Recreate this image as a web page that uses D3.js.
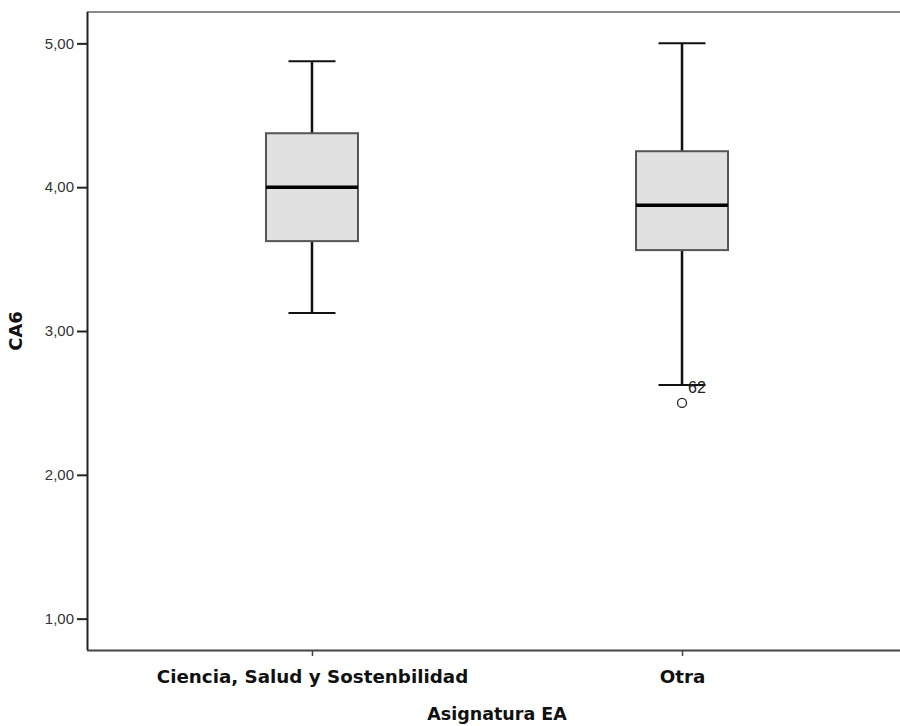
<!DOCTYPE html>
<html>
<head>
<meta charset="utf-8">
<script src="https://cdn.jsdelivr.net/npm/d3@7/dist/d3.min.js"></script>
<style>
  html, body { margin: 0; padding: 0; background: #fff; }
  svg { display: block; }
</style>
</head>
<body>
<svg id="chart" width="900" height="726"></svg>
<script>
// Box plot of CA6 by subject group
const categories = ["Ciencia, Salud y Sostenbilidad", "Otra"];
const whiskerLow  = [3.125, 2.625];
const q1          = [3.625, 3.5625];
const median      = [4.0, 3.875];
const q3          = [4.375, 4.25];
const whiskerHigh = [4.875, 5.0];
const outliers    = [[], [{ value: 2.5, label: "62" }]];
const yTicks = [1, 2, 3, 4, 5];
const yTickLabels = ["1,00", "2,00", "3,00", "4,00", "5,00"];

const svg = d3.select("#chart");
const plotLeft = 87, plotRight = 907, plotTop = 12, plotBottom = 650;

const x = d3.scalePoint().domain(categories).range([plotLeft, plotRight]).padding(0.608);
const y = d3.scaleLinear().domain([0.782, 5.218]).range([plotBottom, plotTop]);

const boxW = 92, capW = 47;
const font = "'Liberation Sans', Arial, sans-serif";
const boldFont = "'DejaVu Sans', Verdana, sans-serif";

// frame
svg.append("line").attr("x1", plotLeft).attr("x2", 900).attr("y1", plotTop).attr("y2", plotTop)
  .attr("stroke", "#8a8a8a").attr("stroke-width", 2);

// y axis
const yAxis = d3.axisLeft(y).tickValues(yTicks)
  .tickFormat((d, i) => yTickLabels[i]).tickSize(10).tickPadding(3);
const gy = svg.append("g").attr("transform", `translate(${plotLeft},0)`).call(yAxis);
gy.select(".domain").attr("d", `M0.5,${plotTop}V${plotBottom}`).attr("stroke", "#222").attr("stroke-width", 2);
gy.selectAll(".tick line").attr("stroke", "#222").attr("stroke-width", 2);
gy.selectAll(".tick text").attr("font-family", font).attr("font-size", 15).attr("fill", "#333");

// x axis
const xAxis = d3.axisBottom(x).tickSize(6).tickPadding(14);
const gx = svg.append("g").attr("transform", `translate(0,${plotBottom})`).call(xAxis);
gx.select(".domain").attr("d", `M${plotLeft},0.5H900`).attr("stroke", "#444").attr("stroke-width", 2);
gx.selectAll(".tick line").attr("stroke", "#444").attr("stroke-width", 1.5);
gx.selectAll(".tick text").attr("font-family", boldFont).attr("font-size", 18.3)
  .attr("font-weight", "bold").attr("fill", "#111");

// boxes
categories.forEach((c, i) => {
  const cx = x(c);
  const g = svg.append("g");
  // whiskers
  g.append("line").attr("x1", cx).attr("x2", cx).attr("y1", y(whiskerHigh[i])).attr("y2", y(q3[i]))
    .attr("stroke", "#111").attr("stroke-width", 2.5);
  g.append("line").attr("x1", cx).attr("x2", cx).attr("y1", y(q1[i])).attr("y2", y(whiskerLow[i]))
    .attr("stroke", "#111").attr("stroke-width", 2.5);
  g.append("line").attr("x1", cx - capW / 2).attr("x2", cx + capW / 2)
    .attr("y1", y(whiskerHigh[i])).attr("y2", y(whiskerHigh[i]))
    .attr("stroke", "#111").attr("stroke-width", 2);
  g.append("line").attr("x1", cx - capW / 2).attr("x2", cx + capW / 2)
    .attr("y1", y(whiskerLow[i])).attr("y2", y(whiskerLow[i]))
    .attr("stroke", "#111").attr("stroke-width", 2);
  // box
  g.append("rect").attr("x", cx - boxW / 2).attr("width", boxW)
    .attr("y", y(q3[i])).attr("height", y(q1[i]) - y(q3[i]))
    .attr("fill", "#e1e1e1").attr("stroke", "#555").attr("stroke-width", 2);
  // median
  g.append("line").attr("x1", cx - boxW / 2).attr("x2", cx + boxW / 2)
    .attr("y1", y(median[i])).attr("y2", y(median[i]))
    .attr("stroke", "#000").attr("stroke-width", 3.5);
  // outliers
  outliers[i].forEach(o => {
    g.append("circle").attr("cx", cx).attr("cy", y(o.value)).attr("r", 4.5)
      .attr("fill", "#fff").attr("stroke", "#222").attr("stroke-width", 1.3);
    g.append("text").attr("x", cx + 6).attr("y", y(o.value) - 10)
      .attr("font-family", font).attr("font-size", 16).attr("fill", "#222").text(o.label);
  });
});

// axis titles
svg.append("text").attr("x", (plotLeft + plotRight) / 2).attr("y", 720).attr("text-anchor", "middle")
  .attr("font-family", boldFont).attr("font-size", 17.5).attr("font-weight", "bold").attr("fill", "#111")
  .text("Asignatura EA");
svg.append("text").attr("transform", `translate(22,${(plotTop + plotBottom) / 2}) rotate(-90)`)
  .attr("text-anchor", "middle").attr("font-family", boldFont).attr("font-size", 18)
  .attr("font-weight", "bold").attr("fill", "#111").text("CA6");
</script>
</body>
</html>
